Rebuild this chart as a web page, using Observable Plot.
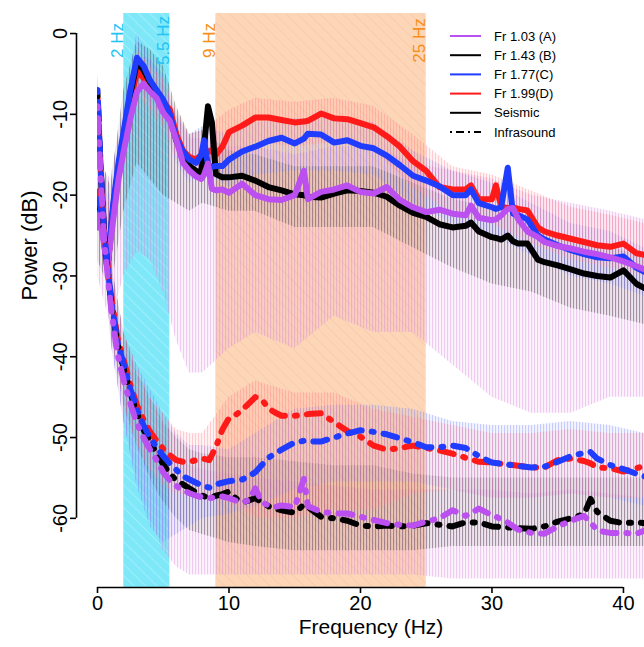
<!DOCTYPE html>
<html>
<head>
<meta charset="utf-8">
<script src="https://cdn.jsdelivr.net/npm/d3@7"></script>
<script src="https://cdn.jsdelivr.net/npm/@observablehq/plot@0.6"></script>
<style>
  html, body { margin: 0; padding: 0; background: white; }
  #chart { position: relative; width: 644px; height: 647px; }
</style>
</head>
<body>
<svg width="0" height="0" style="position:absolute">
  <defs>
    <pattern id="hatchCyan" patternUnits="userSpaceOnUse" width="8" height="8" patternTransform="rotate(-45)">
      <rect width="8" height="8" fill="#7fe8f8"></rect>
      <line x1="0" y1="0" x2="0" y2="8" stroke="#b4f3fc" stroke-width="1.2"></line>
    </pattern>
    <pattern id="hatchOrange" patternUnits="userSpaceOnUse" width="8" height="8" patternTransform="rotate(-45)">
      <rect width="8" height="8" fill="#fdd6b8"></rect>
      <line x1="0" y1="0" x2="0" y2="8" stroke="#f5c6a8" stroke-width="1.2"></line>
    </pattern>
    <pattern id="vA" patternUnits="userSpaceOnUse" width="3" height="4">
      <rect width="3" height="4" fill="#e89ae6" fill-opacity="0.10"></rect>
      <rect width="1.1" height="4" fill="#d77ad8" fill-opacity="0.35"></rect>
    </pattern>
    <pattern id="vB" patternUnits="userSpaceOnUse" width="3" height="4">
      <rect width="3" height="4" fill="#707070" fill-opacity="0.10"></rect>
      <rect width="1.1" height="4" fill="#404040" fill-opacity="0.38"></rect>
    </pattern>
    <pattern id="vC" patternUnits="userSpaceOnUse" width="3" height="4">
      <rect width="3" height="4" fill="#8a96ff" fill-opacity="0.10"></rect>
      <rect width="1.1" height="4" fill="#6070ff" fill-opacity="0.30"></rect>
    </pattern>
    <pattern id="vD" patternUnits="userSpaceOnUse" width="3" height="4">
      <rect width="3" height="4" fill="#ff8a9a" fill-opacity="0.10"></rect>
      <rect width="1.1" height="4" fill="#ff6a80" fill-opacity="0.30"></rect>
    </pattern>
  </defs>
</svg>
<div id="chart"></div>
<script>
const FONT = "'Liberation Sans', Arial, Helvetica, sans-serif";

// ---- scales / ticks ----
const xDomain = [0, 41.6];
const yDomain = [-68.56, 2.48];
const xTicks = [0, 10, 20, 30, 40];
const yTicks = [0, -10, -20, -30, -40, -50, -60];

// ---- frequency bands ----
const bandStart = [2, 9];
const bandEnd = [5.5, 25];
const bandLabelF = [2, 5.5, 9, 25];
const bandLabels = ["2 Hz", "5.5 Hz", "9 Hz", "25 Hz"];
const bandLabelColors = ["#22c4f6", "#22c4f6", "#f7901a", "#f7901a"];

// ---- series ----
const seriesNames = ["Fr 1.03 (A)", "Fr 1.43 (B)", "Fr 1.77(C)", "Fr 1.99(D)"];
const seriesColors = ["#bb4ff0", "#000000", "#1f3cff", "#ff1a1a"];
const spreadPatterns = ["url(#vA)", "url(#vB)", "url(#vC)", "url(#vD)"];

// seismic spectra (dB)
const seisF = [0, 0.15, 0.4, 0.75, 1.2, 1.6, 2.0, 2.5, 3.0, 3.5,
  4.0, 4.5, 5.0, 5.5, 6.0, 6.5, 7.0, 7.5, 7.9, 8.1,
  8.4, 8.7, 9.0, 9.5, 10, 11, 12, 13, 14, 15,
  15.7, 16, 17, 18, 19, 20, 21, 22, 23, 24,
  25, 26, 27, 28, 28.4, 29, 30, 30.3, 30.7, 31.2,
  31.6, 32, 32.7, 33.5, 34, 35, 36, 37, 38, 39,
  40, 41, 41.6];
const seisA = [-24, -22.5, -25, -29, -23, -18, -14.5, -10.5, -7.2, -6.2,
  -7.2, -8, -9.8, -10.8, -13.2, -16, -17, -17.7, -18, -17.5,
  -16.1, -19.2, -19.4, -19.3, -19.7, -18.6, -20, -20.5, -20.6, -20,
  -17, -20.5, -19.6, -19.3, -18.8, -19.6, -19.8, -19, -20.6, -21.5,
  -22.1, -21.8, -22.3, -22.5, -21.3, -22.8, -23.1, -23, -22.5, -21.7,
  -21.6, -23, -24.5, -25.2, -25.8, -26.3, -26.6, -27, -27.3, -27.7,
  -28.2, -28.8, -29.2];
const seisB = [-21.5, -21, -24.5, -29, -21.5, -16.5, -12.5, -7.5, -3.5, -4.5,
  -6, -7.2, -8.5, -10.2, -13.3, -15, -16.4, -17, -17.2, -14,
  -9, -11, -17.4, -17.8, -17.8, -17.6, -18.2, -19, -19.4, -19.9,
  -20, -20.2, -20.3, -19.8, -19.4, -19.5, -19.7, -20.2, -21.3, -22.2,
  -22.7, -23.6, -24, -23.8, -23.4, -24.5, -25.2, -25.3, -25.5, -25,
  -25.7, -26, -26, -28, -28.3, -28.7, -29.2, -29.7, -30, -30.2,
  -29.3, -31, -31.5];
const seisC = [-21, -20.5, -24, -29, -21, -16, -12, -7, -3, -4,
  -5.8, -7, -8.2, -10, -13, -14.6, -15.6, -16, -15, -13.2,
  -16.2, -16.5, -16.4, -16.4, -15.6, -14.6, -14, -13.3, -12.9, -13.6,
  -13, -12.4, -12.5, -13.5, -13.2, -13.9, -14.2, -15.1, -16.3, -17.6,
  -18.2, -18.9, -20, -20, -19.3, -21, -21.5, -21.7, -21.5, -16.6,
  -22.3, -22.5, -23, -25, -25.5, -26.2, -26.8, -27.3, -27.7, -27.8,
  -27.6, -29, -29.5];
const seisD = [-20, -19.5, -23.5, -29, -22, -17, -13, -8.5, -4.7, -5.5,
  -6.7, -7.5, -8.5, -9.4, -12.5, -14.5, -15.3, -15.6, -15, -14.5,
  -14.7, -14.4, -15, -14, -12.2, -11.4, -10.4, -10.4, -10.7, -11,
  -10.9, -10.8, -9.9, -10.5, -10.6, -11.1, -11.6, -12.7, -14, -15.8,
  -17, -19, -19.3, -19.3, -18.8, -20.5, -20.5, -18.8, -21.4, -21.6,
  -21.5, -21.7, -21.9, -24, -24.5, -25, -25.4, -25.8, -26.2, -26.4,
  -26, -27.2, -27.4];

// infrasound spectra (dB)
const infraF = [0, 0.25, 0.5, 0.75, 1, 1.5, 2, 2.5, 3, 3.5,
  4, 4.5, 5, 5.5, 6, 6.5, 7, 7.5, 8, 8.5,
  9, 9.5, 10, 10.5, 11, 11.5, 12, 12.5, 13, 13.5,
  14, 15, 15.7, 16, 17, 18, 19, 20, 21, 22,
  23, 24, 25, 26, 27, 28, 29, 30, 31, 32,
  33, 34, 35, 36, 37, 37.5, 38, 39, 40, 41,
  41.6];
const infraA = [-9, -18, -25.5, -29.5, -33.5, -39.5, -43, -45.8, -48.3, -50,
  -51.5, -52.8, -54.3, -55.3, -56, -56.5, -56.9, -57.2, -57.4, -57.5,
  -57.4, -57.3, -57.5, -57.8, -58, -57.8, -56.3, -58, -58.4, -58.6,
  -58.4, -58.6, -55.1, -58.5, -59.2, -59.4, -59.4, -59.8, -60.2, -60.6,
  -60.8, -60.9, -60.4, -60, -59, -59.7, -58.8, -59.6, -60.3, -61.4,
  -61.8, -61.9, -61, -60.3, -59.7, -60.5, -61.5, -61.8, -61.8, -61.9,
  -61.5];
const infraB = [-7.5, -17, -24.5, -28.8, -32.8, -38.3, -41.5, -44.5, -47, -49,
  -50.5, -52, -53.3, -54.5, -55.3, -55.8, -56.3, -56.8, -57.2, -57.5,
  -57.2, -57, -56.7, -57.5, -58, -57.8, -57.5, -58, -58.5, -58.8,
  -59, -59.3, -58.3, -58.6, -59.8, -60, -60.3, -60.9, -61, -60.9,
  -61, -60.9, -60.6, -60.8, -61, -60.5, -60.5, -61, -61.1, -61.2,
  -61.3, -61, -60.4, -60, -59.5, -57.6, -59.2, -60.3, -60.6, -60.5,
  -60.6];
const infraC = [-7, -17, -24.5, -28.5, -32.5, -38, -41, -44, -46.5, -48.5,
  -50, -51.2, -52.3, -53.2, -54, -54.8, -55.2, -55.6, -56, -56.2,
  -55.8, -55.6, -55.4, -55.3, -55.2, -54.8, -54.3, -53.4, -52.5, -52,
  -51.5, -50.6, -50.4, -50.5, -50.5, -50, -49.5, -49.1, -49.3, -49.6,
  -50.1, -50.6, -51.2, -51.2, -51, -51.3, -52.3, -53.1, -53.3, -53.5,
  -53.7, -53.6, -53, -52.3, -51.9, -51.8, -52.6, -53.4, -53.9, -54.5,
  -54.8];
const infraD = [-8, -17, -24.5, -28.5, -32, -37.5, -40.5, -43.5, -46, -47.8,
  -49.3, -50.4, -51.4, -52.2, -52.8, -53, -53, -52.8, -52.6, -52.8,
  -51.2, -49, -47.6, -47.2, -46.6, -45.8, -45, -45.3, -46.4, -46.9,
  -47.3, -47.3, -47.2, -47.1, -47, -48.1, -49.2, -49.9, -51, -51.5,
  -51.3, -51, -51.3, -51.6, -52, -52.5, -53, -53.1, -53.3, -53.5,
  -53.7, -53.7, -52.8, -52.6, -52.9, -53.2, -53.7, -53.8, -54.2, -53.8,
  -53.5];

// spread envelopes (dB), coarse frequency grid
const bandF = [0, 1, 2, 3, 4, 5, 6, 7, 8, 10, 12, 15, 18, 21, 24, 27, 30, 33, 36, 39, 41.6];
const seisAHi = [-16, -18, -9, -3, -3, -6, -10, -13, -13, -14, -14, -15, -14, -14, -16, -17, -18, -20, -21, -22, -23];
const seisALo = [-30, -36, -30, -27, -28, -32, -38, -42, -42, -39, -37, -39, -35, -37, -37, -41, -45, -47, -47, -45, -45];
const seisBHi = [-14, -19, -7, -1, -2, -4, -9, -12.5, -12, -14.5, -15, -16.5, -16.5, -16.5, -18.5, -20.5, -21.5, -23.5, -25.5, -26.5, -27.5];
const seisBLo = [-28, -32, -22, -16, -18, -20, -21, -22, -21, -22, -22, -24, -24, -24, -26.5, -29, -31, -32, -34, -35, -36];
const seisCHi = [-18, -20, -9, 0, -3, -5, -10, -12.5, -11.5, -12.5, -11, -10.5, -10.5, -11, -14.5, -17, -18.5, -21, -23.5, -24.5, -26.5];
const seisCLo = [-24, -28, -15, -6, -9, -11, -16, -18.5, -17, -19, -17.5, -17, -17, -17.5, -21, -23.5, -25, -27.5, -30, -31, -32.5];
const seisDHi = [-17, -21, -10, -2, -4, -5.5, -9.5, -12.5, -12, -9.5, -8, -8.5, -8, -9, -12.5, -16.5, -17.5, -19.5, -21.5, -22.5, -23.5];
const seisDLo = [-23, -29, -16, -7.5, -9.5, -11.5, -15.5, -18, -17.5, -15.5, -13.5, -14, -13.5, -14.5, -19, -22.5, -23.5, -26, -28, -29, -30];
const infraAHi = [-7, -29, -39, -44, -48, -50.5, -52.5, -53.5, -54, -54.5, -55, -55.5, -56, -56.5, -56.5, -56.5, -56.5, -57, -56.5, -57, -57.5];
const infraALo = [-12, -38, -48, -55, -60, -64, -66, -67, -67, -67, -67, -67, -67, -67, -67, -67.5, -67.5, -67.5, -67.5, -67.5, -67.5];
const infraBHi = [-5, -28, -37, -42, -45, -48, -50, -51.5, -52, -52.5, -52.5, -53, -53.5, -53.5, -54.5, -55, -55, -55, -55, -55, -55];
const infraBLo = [-11, -37, -46, -51, -55, -58, -60, -61.5, -62, -63, -63.5, -64, -64, -64, -64, -63.5, -63.5, -63.5, -63.5, -63.5, -63.5];
const infraCHi = [-5, -28, -37, -41, -44, -47, -49.5, -51, -51, -51.5, -49.5, -46.5, -46, -46, -46.5, -48, -48.5, -48.5, -48, -48.5, -49.5];
const infraCLo = [-10, -38, -48, -56, -61, -63, -62, -61, -60, -59.5, -58.5, -56.5, -55.5, -55.5, -55.5, -56.5, -57.5, -57.5, -57, -57.5, -58.5];
const infraDHi = [-5, -28, -37, -41, -45, -47, -49, -49.5, -49.5, -45, -43, -44.5, -44.5, -46.5, -47.5, -48.5, -49.5, -49.5, -49, -49.5, -49.5];
const infraDLo = [-10, -37, -46, -51, -54, -56, -57, -57, -57, -58, -60, -60, -59, -59, -57, -56.5, -57.5, -57.5, -57, -57.5, -57.5];

// legend
const legendLabels = [...seriesNames, "Seismic", "Infrasound"];
const legendColors = [...seriesColors, "#000000", "#000000"];
const legendDash = [null, null, null, null, null, "2 4 8 4"];

// ---- build tables ----
const toRows = (fs, vs) => fs.map((f, i) => ({f, v: vs[i]}));
const toBand = (fs, lo, hi) => fs.map((f, i) => ({f, lo: lo[i], hi: hi[i]}));
const seisVals = [seisA, seisB, seisC, seisD];
const infraVals = [infraA, infraB, infraC, infraD];
const seisBands = [[seisALo, seisAHi], [seisBLo, seisBHi], [seisCLo, seisCHi], [seisDLo, seisDHi]];
const infraBands = [[infraALo, infraAHi], [infraBLo, infraBHi], [infraCLo, infraCHi], [infraDLo, infraDHi]];
const drawOrder = [3, 1, 2, 0]; // red, black, blue, purple (front)

const bandTable = bandStart.map((s, i) => ({start: s, end: bandEnd[i]}));
const bandLabelRows = bandLabelF.map((f, i) => ({f, label: bandLabels[i], color: bandLabelColors[i]}));

const spreadMarks = [];
for (const i of [0, 1, 2, 3]) {
  spreadMarks.push(Plot.areaY(toBand(bandF, seisBands[i][0], seisBands[i][1]),
    {x: "f", y1: "lo", y2: "hi", fill: spreadPatterns[i], clip: true}));
  spreadMarks.push(Plot.areaY(toBand(bandF, infraBands[i][0], infraBands[i][1]),
    {x: "f", y1: "lo", y2: "hi", fill: spreadPatterns[i], clip: true}));
}
const seisMarks = drawOrder.map(i => Plot.line(toRows(seisF, seisVals[i]),
  {x: "f", y: "v", stroke: seriesColors[i], strokeWidth: 6, strokeLinejoin: "round", strokeLinecap: "round", clip: true}));
const infraMarks = drawOrder.map(i => Plot.line(toRows(infraF, infraVals[i]),
  {x: "f", y: "v", stroke: seriesColors[i], strokeWidth: 6, strokeLinejoin: "round", strokeLinecap: "round",
   strokeDasharray: "2 10 14 10", clip: true}));

const chart = Plot.plot({
  width: 644,
  height: 647,
  marginLeft: 97,
  marginRight: 0,
  marginTop: 13,
  marginBottom: 60,
  x: {domain: xDomain},
  y: {domain: yDomain},
  color: {type: "identity"},
  style: {fontFamily: FONT, background: "white", color: "black", overflow: "visible"},
  marks: [
    Plot.rect(bandTable.slice(0, 1), {x1: "start", x2: "end", y1: yDomain[0], y2: yDomain[1], fill: "url(#hatchCyan)"}),
    Plot.rect(bandTable.slice(1, 2), {x1: "start", x2: "end", y1: yDomain[0], y2: yDomain[1], fill: "url(#hatchOrange)"}),
    ...spreadMarks,
    ...seisMarks,
    ...infraMarks,
    Plot.text(bandLabelRows, {x: "f", text: "label", fill: "color", frameAnchor: "top", dy: 27,
      rotate: -90, textAnchor: "middle", lineAnchor: "bottom", dx: -1, fontSize: 17}),
    Plot.ruleX([xDomain[0]], {y1: yTicks[0], y2: yTicks[yTicks.length - 1], dx: -21, strokeWidth: 1.6}),
    Plot.ruleY([yDomain[0]], {x1: xTicks[0], x2: xTicks[xTicks.length - 1], strokeWidth: 1.6}),
    Plot.axisY({ticks: yTicks, tickSize: 6, tickRotate: -90, dx: -21, tickPadding: 4,
      tickFormat: d => String(d), fontSize: 20, label: null, strokeWidth: 1.6}),
    Plot.axisX({ticks: xTicks, tickSize: 6, tickPadding: 2, fontSize: 20, label: null, strokeWidth: 1.6}),
    Plot.text(["Power (dB)"], {frameAnchor: "left", dx: -68, rotate: -90, fontSize: 22}),
    Plot.text(["Frequency (Hz)"], {frameAnchor: "bottom", dy: 46, fontSize: 21})
  ]
});

// legend inside the plot area
const leg = d3.select(chart).append("g")
  .attr("font-family", FONT).attr("font-size", 13).attr("text-anchor", "start");
legendLabels.forEach((lab, i) => {
  const y = 36 + i * 19.2;
  const ln = leg.append("line").attr("x1", 450).attr("x2", 481).attr("y1", y).attr("y2", y)
    .attr("stroke", legendColors[i]).attr("stroke-width", 2);
  if (legendDash[i]) ln.attr("stroke-dasharray", legendDash[i]);
  leg.append("text").attr("x", 494).attr("y", y).attr("dy", "0.35em")
    .attr("fill", "black").attr("text-anchor", "start").text(lab);
});

document.getElementById("chart").appendChild(chart);
</script>
</body>
</html>
